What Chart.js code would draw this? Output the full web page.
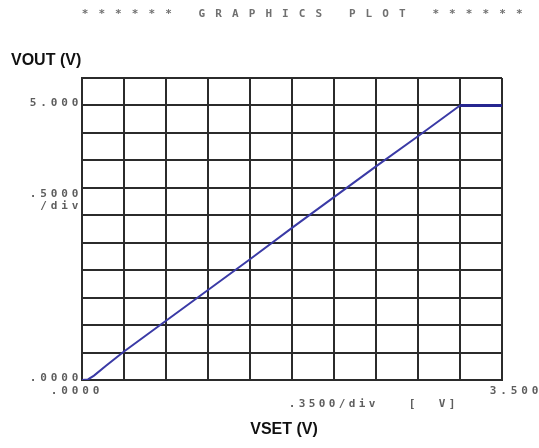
<!DOCTYPE html>
<html>
<head>
<meta charset="utf-8">
<script src="https://cdn.jsdelivr.net/npm/chart.js@4.4.1/dist/chart.umd.min.js"></script>
<style>
  html, body { margin: 0; padding: 0; background: #fff; }
  canvas { display: block; }
</style>
</head>
<body>
<canvas id="plot" width="539" height="448"></canvas>
<script>
// VSET sweep (V) and the measured VOUT (V)
const vset = [0, 0.05, 0.1, 0.2, 0.35, 0.7, 1.05, 1.4, 1.75, 2.1, 2.45, 2.8, 3.15, 3.5];
const vout = [0, 0.01, 0.08, 0.26, 0.52, 1.08, 1.64, 2.2, 2.77, 3.33, 3.89, 4.44, 5.0, 5.0];

// axis end labels, as the plotter prints them
const xTickValues = [0, 3.5];
const xTickLabels = ['.0000', '3.500'];
const yTickValues = [0, 5];
const yTickLabels = ['.0000', '5.000'];

const plotTitle = '****** GRAPHICS PLOT ******';
const gridColor = '#2b2b2b';
const labelGray = '#5e5e5e';

// spaced-out mono text like the old plotter output
function spacedText(ctx, text, x, y, pitch, align) {
    const n = text.length;
    let start = x;
    if (align === 'right') start = x - (n - 1) * pitch;
    for (let i = 0; i < n; i++) {
        ctx.fillText(text[i], start + i * pitch, y);
    }
}

const plotterText = {
    id: 'plotterText',
    afterDraw(chart) {
        const ctx = chart.ctx;
        const xs = chart.scales.x;
        const ys = chart.scales.y;
        const area = chart.chartArea;
        ctx.save();
        ctx.textBaseline = 'middle';
        ctx.textAlign = 'center';
        ctx.fillStyle = '#707070';
        ctx.font = 'bold 11px "DejaVu Sans Mono"';
        spacedText(ctx, plotTitle, 85, 14, 16.7, 'left');

        // tick values
        ctx.fillStyle = labelGray;
        ctx.font = 'bold 11px "DejaVu Sans Mono"';
        yTickValues.forEach((v, i) => {
            spacedText(ctx, yTickLabels[i], area.left - 7, ys.getPixelForValue(v) - 2, 10.5, 'right');
        });
        spacedText(ctx, xTickLabels[0], xs.getPixelForValue(xTickValues[0]) + 14, area.bottom + 11, 10.5, 'right');
        spacedText(ctx, xTickLabels[1], 535, area.bottom + 11, 10.5, 'right');

        // scale per division notes
        spacedText(ctx, '.5000', area.left - 7, 194, 10.5, 'right');
        spacedText(ctx, '/div', area.left - 7, 206, 10.5, 'right');
        spacedText(ctx, '.3500/div   [  V]', 292, 404, 10, 'left');

        // axis names
        ctx.fillStyle = '#111';
        ctx.font = 'bold 16px "Liberation Sans"';
        ctx.textAlign = 'left';
        ctx.fillText('VOUT (V)', 11, 61);
        ctx.textAlign = 'center';
        ctx.fillText('VSET (V)', 284, 430);
        ctx.restore();
    }
};

new Chart(document.getElementById('plot'), {
    type: 'line',
    data: {
        datasets: [{
            label: 'VOUT',
            data: vset.map((x, i) => ({ x: x, y: vout[i] })),
            borderColor: '#3a3aa6',
            borderWidth: 2,
            pointRadius: 0,
            tension: 0,
            fill: false,
            segment: {
                // the clamped part at the top is drawn heavier
                borderWidth: c => c.p0.parsed.y === c.p1.parsed.y && c.p0.parsed.y > 0 ? 3 : 2,
                borderColor: c => c.p0.parsed.y === c.p1.parsed.y && c.p0.parsed.y > 0 ? '#262690' : '#3a3aa6'
            }
        }]
    },
    options: {
        responsive: false,
        animation: false,
        layout: { padding: { left: 82, right: 37, top: 78, bottom: 68 } },
        plugins: {
            legend: { display: false },
            tooltip: { enabled: false },
            title: { display: false }
        },
        scales: {
            x: {
                type: 'linear',
                min: 0,
                max: 3.5,
                ticks: { stepSize: 0.35, display: false },
                grid: { color: gridColor, lineWidth: 2, drawTicks: false },
                border: { color: gridColor, width: 2 }
            },
            y: {
                min: 0,
                max: 5.5,
                ticks: { stepSize: 0.5, display: false },
                grid: { color: gridColor, lineWidth: 2, drawTicks: false },
                border: { color: gridColor, width: 2 }
            }
        }
    },
    plugins: [plotterText]
});
</script>
</body>
</html>
